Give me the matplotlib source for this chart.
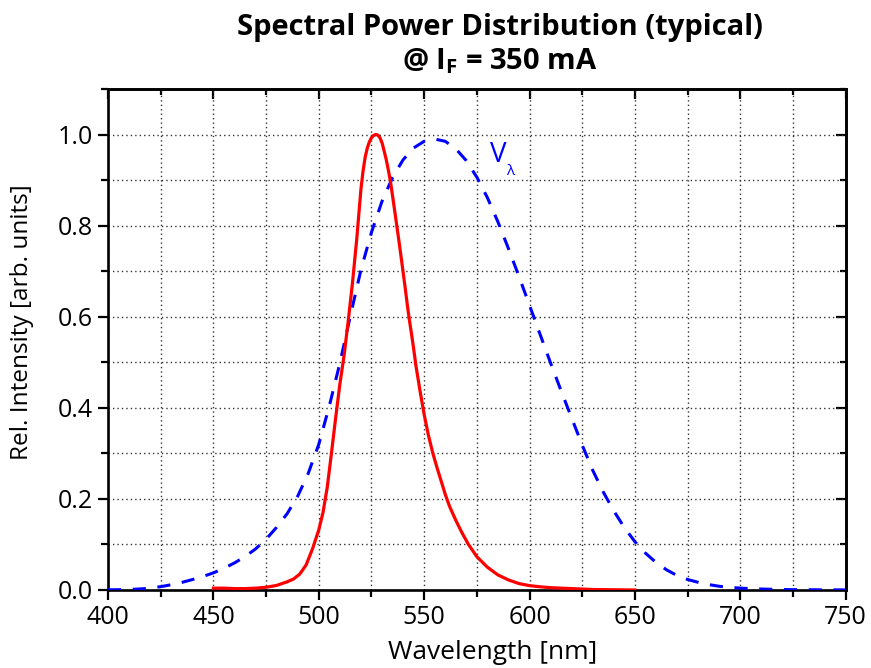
import matplotlib
matplotlib.use("Agg")
import matplotlib.pyplot as plt
from matplotlib.ticker import MultipleLocator, FormatStrFormatter

plt.rcParams['font.family'] = ['Open Sans', 'DejaVu Sans']
plt.rcParams['mathtext.fontset'] = 'custom'
plt.rcParams['mathtext.rm'] = 'Open Sans'
plt.rcParams['mathtext.it'] = 'Open Sans'
plt.rcParams['mathtext.bf'] = 'Open Sans:bold'

# LED spectrum (red curve)
led_wl = [450, 455, 460, 465, 470, 475, 480, 485, 488, 491, 494, 497, 500, 502,
          504, 506, 508, 510, 512, 514, 516, 518, 520, 521, 522, 523, 524, 525,
          526, 527, 528, 529, 530, 531, 532, 533, 534, 535, 536, 537, 538, 539,
          540, 541, 542, 543, 544, 545, 546, 548, 550, 552, 554, 556, 558, 560,
          562, 565, 568, 571, 575, 580, 585, 590, 595, 600, 605, 610, 615, 620,
          625, 630, 640, 650]
led_val = [0.004, 0.004, 0.003, 0.003, 0.004, 0.006, 0.010, 0.018, 0.024, 0.035,
           0.055, 0.090, 0.132, 0.170, 0.225, 0.300, 0.378, 0.452, 0.515, 0.592,
           0.675, 0.770, 0.880, 0.920, 0.950, 0.970, 0.984, 0.993, 0.998, 1.000,
           0.999, 0.993, 0.982, 0.964, 0.945, 0.922, 0.897, 0.865, 0.833, 0.800,
           0.767, 0.733, 0.698, 0.663, 0.626, 0.592, 0.562, 0.530, 0.495, 0.438,
           0.385, 0.340, 0.302, 0.270, 0.240, 0.210, 0.184, 0.153, 0.125, 0.100,
           0.073, 0.050, 0.033, 0.022, 0.014, 0.0095, 0.007, 0.005, 0.004, 0.003,
           0.002, 0.001, 0.0005, 0.0]

# Eye sensitivity V(lambda) (blue dashed)
v_wl = [400, 405, 410, 415, 420, 425, 430, 435, 440, 445, 450, 455, 460, 465,
        470, 475, 480, 485, 490, 495, 500, 505, 510, 515, 520, 525, 530, 535,
        540, 545, 550, 555, 560, 565, 570, 575, 580, 585, 590, 595, 600, 605,
        610, 615, 620, 625, 630, 635, 640, 645, 650, 655, 660, 665, 670, 675,
        680, 685, 690, 695, 700, 705, 710, 715, 720, 725, 730, 735, 740, 745, 750]
v_val = [0.0004, 0.0006, 0.0012, 0.0022, 0.0040, 0.0073, 0.0115, 0.0166, 0.0228,
         0.0295, 0.0376, 0.0475, 0.0594, 0.0732, 0.0901, 0.1115, 0.1376, 0.1676,
         0.2059, 0.2560, 0.3198, 0.4039, 0.4980, 0.6021, 0.7029, 0.7853, 0.8534,
         0.9058, 0.9445, 0.9705, 0.9851, 0.9900, 0.9851, 0.9688, 0.9425, 0.9062,
         0.8613, 0.8081, 0.7494, 0.6880, 0.6247, 0.5611, 0.4980, 0.4368, 0.3772,
         0.3178, 0.2624, 0.2148, 0.1733, 0.1368, 0.1059, 0.0808, 0.0604, 0.0442,
         0.0317, 0.0230, 0.0168, 0.0118, 0.0081, 0.0057, 0.0041, 0.0029, 0.0021,
         0.0015, 0.0010, 0.0007, 0.0005, 0.0004, 0.0002, 0.0002, 0.0001]

fig = plt.figure(figsize=(8.71, 6.68), dpi=100)
ax = fig.add_axes([0.124, 0.1168, 0.847, 0.75])

ax.plot(v_wl, v_val, color='#0000ff', lw=2.2, dashes=(4.3, 3.8), zorder=3)
ax.plot(led_wl, led_val, color='#ff0000', lw=2.3, zorder=4,
        solid_joinstyle='round')

ax.set_xlim(400, 750)
ax.set_ylim(0, 1.1)
ax.xaxis.set_major_locator(MultipleLocator(50))
ax.xaxis.set_minor_locator(MultipleLocator(25))
ax.yaxis.set_major_locator(MultipleLocator(0.2))
ax.yaxis.set_minor_locator(MultipleLocator(0.1))
ax.yaxis.set_major_formatter(FormatStrFormatter('%.1f'))

ax.grid(True, which='both', linestyle=(0, (1, 2.2)), color='#333333', lw=1.0)
ax.set_axisbelow(True)

for s in ax.spines.values():
    s.set_linewidth(1.9)

ax.tick_params(axis='both', which='major', length=7, width=1.6,
               labelsize=18, pad=4, colors='black')
ax.tick_params(axis='both', which='minor', length=5, width=1.6)
ax.tick_params(which='both', direction='out', top=False, right=False)

# top/right inward ticks
axt = ax.secondary_xaxis('top')
axt.xaxis.set_major_locator(MultipleLocator(50))
axt.xaxis.set_minor_locator(MultipleLocator(25))
axt.tick_params(which='major', direction='in', length=7, width=1.6, labeltop=False)
axt.tick_params(which='minor', direction='in', length=4.5, width=1.6)
axt.spines['top'].set_linewidth(1.9)
axr = ax.secondary_yaxis('right')
axr.yaxis.set_major_locator(MultipleLocator(0.2))
axr.yaxis.set_minor_locator(MultipleLocator(0.1))
axr.tick_params(which='major', direction='in', length=7, width=1.6, labelright=False)
axr.tick_params(which='minor', direction='in', length=4.5, width=1.6)
axr.spines['right'].set_linewidth(1.9)

ax.set_xlabel('Wavelength [nm]', fontsize=19, va='center')
ax.xaxis.set_label_coords(0.522, -0.124)
ax.set_ylabel('Rel. Intensity [arb. units]', fontsize=17.6, va='center')
ax.yaxis.set_label_coords(-0.1165, 0.535)

ax.text(581, 0.955, 'V', color='#0000ff', fontsize=20, ha='left', va='center')
ax.text(589, 0.918, '\u03bb', color='#0000ff', fontsize=11, ha='left', va='center')

fig.text(0.574, 0.959, 'Spectral Power Distribution (typical)', ha='center',
         va='center', fontsize=21, fontweight='bold')
fig.text(0.574, 0.908, r'@ I$_\mathbf{F}$ = 350 mA', ha='center', va='center',
         fontsize=21, fontweight='bold')

fig.savefig('out.png', dpi=100)
